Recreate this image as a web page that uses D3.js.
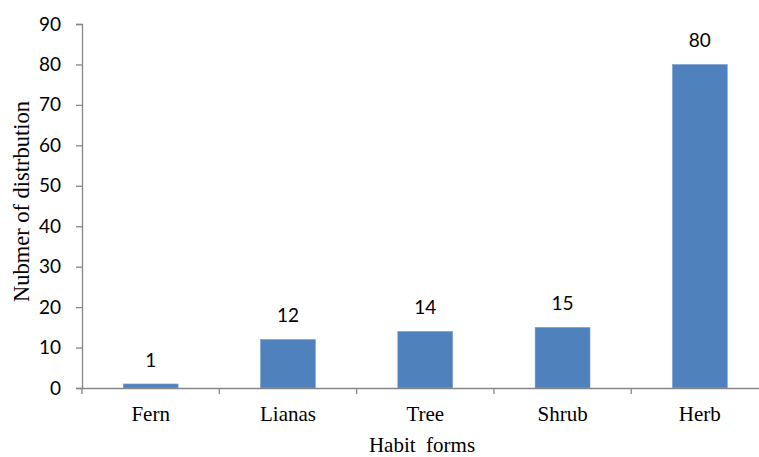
<!DOCTYPE html>
<html><head><meta charset="utf-8">
<script src="https://cdn.jsdelivr.net/npm/d3@7"></script>
<style>body{margin:0;background:#fff}</style>
</head><body>
<svg id="c" width="759" height="457"></svg>
<script>
const categories = ["Fern", "Lianas", "Tree", "Shrub", "Herb"];
const values = [1, 12, 14, 15, 80];
const yTicks = [0, 10, 20, 30, 40, 50, 60, 70, 80, 90];

(function () {
const svg = d3.select("#c");
const mLeft = 82, mBottom = 388, mTop = 24, step = 137.3;
const x = d3.scaleBand().domain(categories).range([mLeft, mLeft + step * categories.length]).paddingInner(0.6).paddingOuter(0.3);
const y = d3.scaleLinear().domain([0, 90]).range([mBottom, mTop]);
const axisColor = "#868686";
const numFont = "Lato, 'Open Sans', sans-serif";
const serif = "'Liberation Serif', 'Times New Roman', serif";

// y axis
const ya = svg.append("g").attr("transform", `translate(${mLeft},0)`)
  .call(d3.axisLeft(y).tickValues(yTicks).tickSize(6).tickPadding(15));
ya.select(".domain").attr("stroke", axisColor).attr("stroke-width", 1.3);
ya.selectAll(".tick line").attr("stroke", axisColor).attr("stroke-width", 1.3);
ya.selectAll(".tick text").attr("font-family", numFont).attr("font-size", 19).attr("fill", "#000");

// bars
svg.selectAll("rect.bar").data(values).join("rect").attr("class", "bar")
  .attr("x", (d, i) => x(categories[i]))
  .attr("width", x.bandwidth())
  .attr("y", d => y(d))
  .attr("height", d => y(0) - y(d))
  .attr("fill", "#4F81BD")
  .attr("stroke", "#7FA3D2").attr("stroke-width", 0.6);

// x axis
const xa = svg.append("g").attr("transform", `translate(0,${mBottom})`)
  .call(d3.axisBottom(x).tickSize(0).tickSizeOuter(0).tickPadding(18));
xa.select(".domain").attr("stroke", axisColor).attr("stroke-width", 1.3);
xa.selectAll(".tick text").attr("font-family", serif).attr("font-size", 21).attr("fill", "#000");
const bounds = d3.range(categories.length + 1).map(i => mLeft + step * i);
svg.append("g").selectAll("line").data(bounds).join("line")
  .attr("x1", d => d).attr("x2", d => d).attr("y1", mBottom).attr("y2", mBottom + 6)
  .attr("stroke", axisColor).attr("stroke-width", 1.3);

// value labels
svg.selectAll("text.val").data(values).join("text").attr("class", "val")
  .attr("x", (d, i) => x(categories[i]) + x.bandwidth() / 2)
  .attr("y", d => y(d) - 17)
  .attr("text-anchor", "middle")
  .attr("font-family", numFont).attr("font-size", 19)
  .text(d => d);

// titles
svg.append("text").attr("x", 422).attr("y", 452).attr("text-anchor", "middle")
  .attr("font-family", serif).attr("font-size", 21).attr("xml:space", "preserve")
  .text("Habit  forms");
svg.append("text").attr("transform", `translate(29,201.5) rotate(-90)`)
  .attr("text-anchor", "middle").attr("font-family", serif).attr("font-size", 22.5)
  .text("Nubmer of distrbution");
})();
</script>
</body></html>
